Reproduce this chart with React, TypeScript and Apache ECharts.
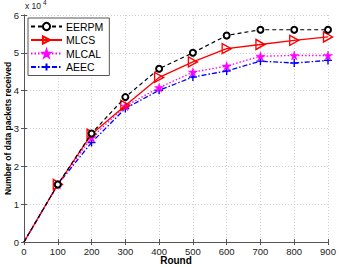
import React, { useEffect, useRef } from "react";
import * as echarts from "echarts";

const rounds = [0, 100, 200, 300, 400, 500, 600, 700, 800, 900];
const eerpm = [0, 15200, 28700, 38300, 45800, 50000, 54600, 56100, 56100, 56100];
const mlcs = [0, 15200, 28500, 36100, 43500, 47600, 51100, 52200, 53300, 54200];
const mlcal = [0, 15200, 27600, 35900, 40800, 44900, 46500, 49100, 49300, 49300];
const aeec = [0, 15200, 26300, 35300, 40100, 43600, 45200, 47800, 47300, 48000];
const yTicks = [0, 1, 2, 3, 4, 5, 6];

const STAR = "path://M50,0L61,35L98,35L68,57L79,91L50,70L21,91L32,57L2,35L39,35Z";
const TRI = "path://M0,0L10,5L0,10Z";
const PLUS = "path://M0,5L10,5M5,0L5,10";

const FONT = "Liberation Sans, Arial, sans-serif";

export default function App() {
  const ref = useRef<HTMLDivElement>(null);
  useEffect(() => {
    if (!ref.current) return;
    const chart = echarts.init(ref.current, undefined, { renderer: "svg" });
    const pts = (arr: number[]) =>
      rounds.map((r, i) => (r === 0 ? { value: [r, arr[i]], symbol: "none" } : [r, arr[i]]));
    const axisCommon = {
      axisLine: { show: true, lineStyle: { color: "#555", width: 1 } },
      axisTick: { show: true, inside: true, length: 3, lineStyle: { color: "#555" } },
    };
    chart.setOption({
      animation: false,
      backgroundColor: "#fff",
      textStyle: { fontFamily: FONT },
      grid: { left: 24, right: 11, top: 15, bottom: 25, show: false, containLabel: false, outerBoundsMode: "none" },
      xAxis: [
        {
          type: "value",
          min: 0,
          max: 900,
          interval: 100,
          name: "Round",
          nameLocation: "middle",
          nameGap: 13,
          nameMoveOverlap: false,
          nameTextStyle: { fontWeight: "bold", fontSize: 10, color: "#000", fontFamily: FONT },
          ...axisCommon,
          axisLabel: { fontSize: 9.5, color: "#222", margin: 4, fontFamily: FONT },
          splitLine: { show: true, lineStyle: { color: "#d0d0d0", type: [1, 2] } },
        },
        {
          type: "value",
          position: "top",
          min: 0,
          max: 900,
          interval: 100,
          ...axisCommon,
          axisLabel: { show: false },
          splitLine: { show: false },
        },
      ],
      yAxis: [
        {
          type: "value",
          min: 0,
          max: 60000,
          interval: 10000,
          name: "Number of data packets received",
          nameLocation: "middle",
          nameGap: 12,
          nameMoveOverlap: false,
          nameTextStyle: { fontWeight: "bold", fontSize: 8.5, color: "#000", fontFamily: FONT },
          ...axisCommon,
          axisLabel: {
            fontSize: 9.5,
            color: "#222",
            margin: 5,
            fontFamily: FONT,
            formatter: (v: number) => String(yTicks[Math.round(v / 10000)]),
          },
          splitLine: { show: true, lineStyle: { color: "#d0d0d0", type: [1, 2] } },
        },
        {
          type: "value",
          position: "right",
          min: 0,
          max: 60000,
          interval: 10000,
          ...axisCommon,
          axisLabel: { show: false },
          splitLine: { show: false },
        },
      ],
      legend: {
        orient: "vertical",
        left: 28,
        top: 18,
        width: 75,
        padding: [3, 6, 3, 2],
        itemGap: 2.5,
        itemWidth: 31,
        itemHeight: 9,
        backgroundColor: "#fff",
        borderColor: "#555",
        borderWidth: 1,
        borderRadius: 0,
        textStyle: { fontSize: 10.5, color: "#000", fontFamily: FONT, padding: [0, 0, 0, -1] },
        data: ["EERPM", "MLCS", "MLCAL", "AEEC"],
      },
      graphic: [
        {
          type: "text",
          left: 25,
          top: 1,
          style: { text: "x 10", fontSize: 8.5, fill: "#222", fontFamily: FONT },
        },
        {
          type: "text",
          left: 43,
          top: -1,
          style: { text: "4", fontSize: 6.5, fill: "#222", fontFamily: FONT },
        },
      ],
      series: [
        {
          name: "EERPM",
          type: "line",
          data: pts(eerpm),
          symbol: "emptyCircle",
          symbolSize: 6,
          showSymbol: true,
          lineStyle: { color: "#000", width: 1.2, type: [4, 3] },
          itemStyle: { color: "#000", borderColor: "#000", borderWidth: 1.4 },
          z: 5,
        },
        {
          name: "MLCS",
          type: "line",
          data: pts(mlcs),
          symbol: TRI,
          symbolSize: [9, 10],
          lineStyle: { color: "#ff0000", width: 1.3, type: "solid" },
          itemStyle: { color: "rgba(0,0,0,0)", borderColor: "#ff0000", borderWidth: 1.4 },
          z: 4,
        },
        {
          name: "MLCAL",
          type: "line",
          data: pts(mlcal),
          symbol: STAR,
          symbolSize: 9,
          lineStyle: { color: "#ff00ff", width: 1.3, type: [1.5, 2] },
          itemStyle: { color: "#ff00ff", borderColor: "#ff00ff", borderWidth: 0.5 },
          z: 3,
        },
        {
          name: "AEEC",
          type: "line",
          data: pts(aeec),
          symbol: PLUS,
          symbolSize: 8,
          lineStyle: { color: "#0000ff", width: 1.3, type: [5, 2, 1.5, 2] },
          itemStyle: { color: "rgba(0,0,0,0)", borderColor: "#0000ff", borderWidth: 1.4 },
          z: 2,
        },
      ],
    });
    return () => chart.dispose();
  }, []);
  return <div ref={ref} style={{ width: 339, height: 267, position: "absolute", left: 0, top: 0 }} />;
}
